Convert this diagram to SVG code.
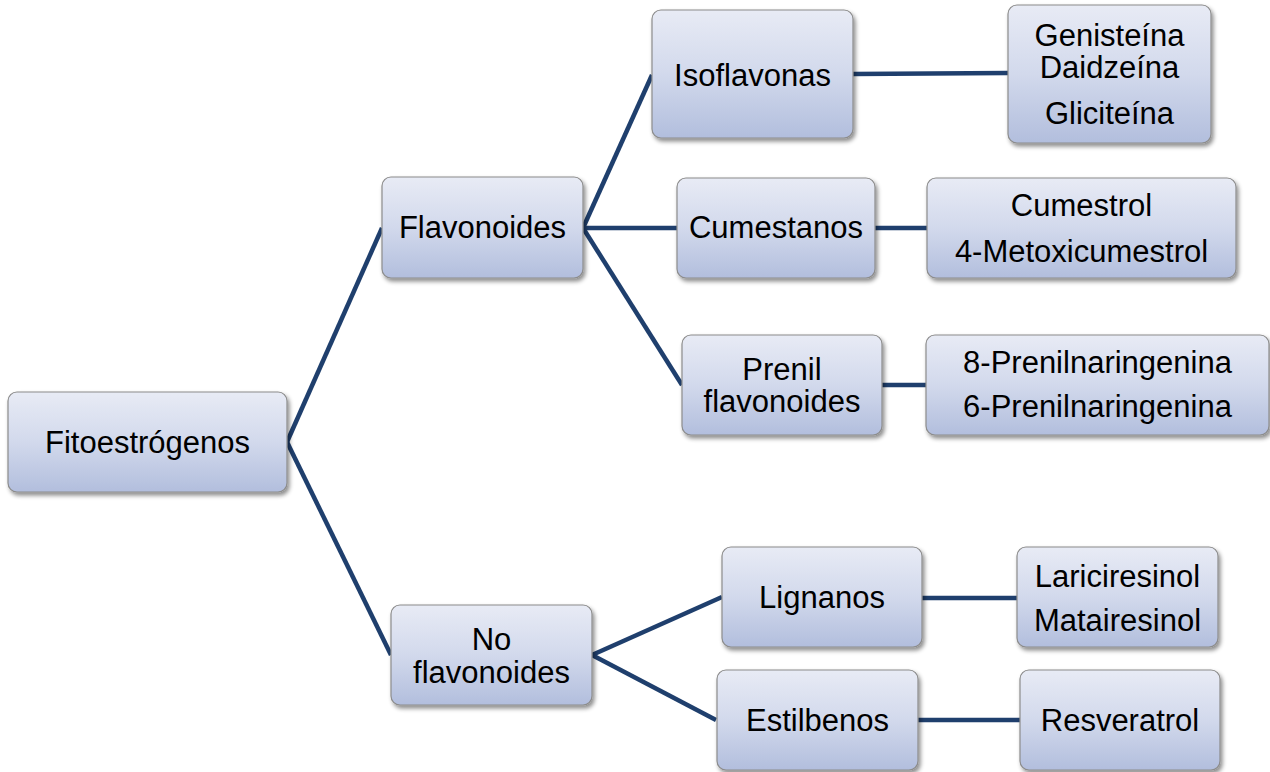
<svg xmlns="http://www.w3.org/2000/svg" width="1270" height="772" viewBox="0 0 1270 772">
<defs>
<linearGradient id="g" x1="0" y1="0" x2="0" y2="1">
<stop offset="0" stop-color="#e8ebf5"/>
<stop offset="0.5" stop-color="#d2d9ec"/>
<stop offset="1" stop-color="#b2bedd"/>
</linearGradient>
<filter id="sh" x="-10%" y="-10%" width="125%" height="130%">
<feDropShadow dx="2" dy="3" stdDeviation="2.2" flood-color="#000" flood-opacity="0.45"/>
</filter>
</defs>
<style>
.box{fill:url(#g);stroke:#8c8c8c;stroke-width:1.2;filter:url(#sh)}
text{font-family:"Liberation Sans",Arial,sans-serif;font-size:31px;fill:#000;text-anchor:middle}
.c{fill:none;stroke:#1f3f6d;stroke-width:4.5;stroke-linecap:butt}
</style>
<rect width="1270" height="772" fill="#fff"/>
<g id="connectors">
<path class="c" d="M287,442 L382,228"/>
<path class="c" d="M287,442 L391,655"/>
<path class="c" d="M583,228 L652,75"/>
<path class="c" d="M583,228 L677,228"/>
<path class="c" d="M583,228 L682,385"/>
<path class="c" d="M853,74 L1008,73"/>
<path class="c" d="M875,228 L927,228"/>
<path class="c" d="M882,385 L926,385"/>
<path class="c" d="M592,655 L722,597"/>
<path class="c" d="M592,655 L716,720"/>
<path class="c" d="M922,598 L1017,598"/>
<path class="c" d="M918,720 L1020,720"/>
</g>
<g id="fitoestrogenos"><rect class="box" x="8" y="392" width="279" height="100" rx="9"/><text x="147.5" y="453">Fitoestrógenos</text></g>
<g id="flavonoides"><rect class="box" x="382" y="177" width="201" height="101" rx="9"/><text x="482.5" y="238">Flavonoides</text></g>
<g id="no-flavonoides"><rect class="box" x="391" y="605" width="201" height="100" rx="9"/><text x="491.5" y="650">No</text><text x="491.5" y="683">flavonoides</text></g>
<g id="isoflavonas"><rect class="box" x="652" y="10" width="201" height="128" rx="9"/><text x="752.5" y="86">Isoflavonas</text></g>
<g id="isoflavonas-ej"><rect class="box" x="1008" y="5" width="203" height="138" rx="9"/><text x="1109.5" y="46">Genisteína</text><text x="1109.5" y="78">Daidzeína</text><text x="1109.5" y="124">Gliciteína</text></g>
<g id="cumestanos"><rect class="box" x="677" y="178" width="198" height="100" rx="9"/><text x="776" y="238">Cumestanos</text></g>
<g id="cumestanos-ej"><rect class="box" x="927" y="178" width="309" height="100" rx="9"/><text x="1081.5" y="216">Cumestrol</text><text x="1081.5" y="262">4-Metoxicumestrol</text></g>
<g id="prenil"><rect class="box" x="682" y="335" width="200" height="100" rx="9"/><text x="782" y="380">Prenil</text><text x="782" y="412">flavonoides</text></g>
<g id="prenil-ej"><rect class="box" x="926" y="335" width="343" height="100" rx="9"/><text x="1097.5" y="373">8-Prenilnaringenina</text><text x="1097.5" y="417">6-Prenilnaringenina</text></g>
<g id="lignanos"><rect class="box" x="722" y="547" width="200" height="100" rx="9"/><text x="822" y="608">Lignanos</text></g>
<g id="lignanos-ej"><rect class="box" x="1017" y="547" width="201" height="100" rx="9"/><text x="1117.5" y="587">Lariciresinol</text><text x="1117.5" y="631">Matairesinol</text></g>
<g id="estilbenos"><rect class="box" x="717" y="670" width="201" height="100" rx="9"/><text x="817.5" y="731">Estilbenos</text></g>
<g id="estilbenos-ej"><rect class="box" x="1020" y="670" width="200" height="100" rx="9"/><text x="1120" y="731">Resveratrol</text></g>
</svg>
